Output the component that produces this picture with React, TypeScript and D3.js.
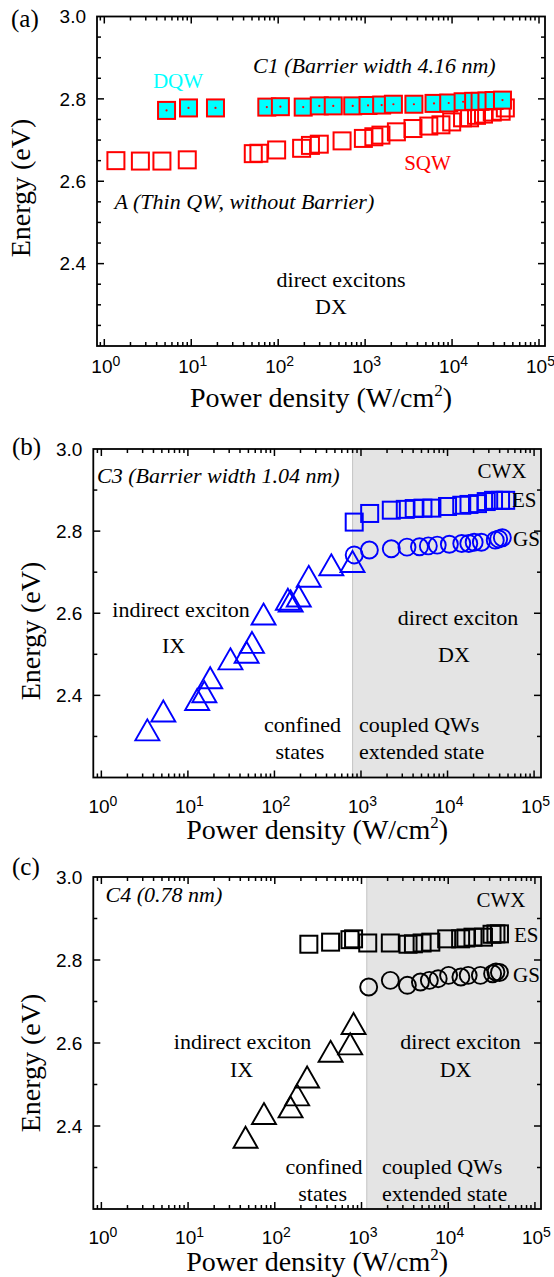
import React, { useEffect } from 'react';
import * as d3 from 'd3';

// ---------- Data: panel (a) C1 / A ----------
const dqwPower = [5.2, 9.3, 19, 74, 106, 194, 297, 430, 720, 1080, 1550, 2115, 3640, 6200, 9150, 13400, 17700, 21000, 25200, 30400, 38000];
const dqwEnergy = [2.772, 2.778, 2.778, 2.780, 2.781, 2.780, 2.783, 2.783, 2.783, 2.784, 2.785, 2.787, 2.787, 2.789, 2.790, 2.793, 2.794, 2.794, 2.795, 2.796, 2.797];
const sqwPower = [1.36, 2.6, 4.6, 9.0, 51.7, 60, 96, 186, 235, 297, 543, 955, 1260, 1520, 2290, 3550, 5400, 7450, 9900, 13200, 15900, 19100, 23000, 29000, 36700, 41000];
const sqwEnergy = [2.650, 2.649, 2.649, 2.652, 2.667, 2.668, 2.676, 2.680, 2.687, 2.690, 2.698, 2.704, 2.708, 2.712, 2.720, 2.728, 2.734, 2.737, 2.744, 2.754, 2.754, 2.760, 2.763, 2.768, 2.770, 2.778];

// ---------- Data: panel (b) C3 ----------
const c3IxPower = [3.4, 5.2, 12.8, 15.5, 18.1, 31, 47.7, 55, 74.8, 143, 154, 191, 249, 454, 798];
const c3IxEnergy = [2.316, 2.362, 2.390, 2.409, 2.443, 2.489, 2.505, 2.529, 2.598, 2.634, 2.630, 2.642, 2.690, 2.718, 2.726];
const c3GsPower = [835, 1250, 2240, 3400, 4740, 6000, 7600, 10500, 14600, 17600, 20300, 24600, 35600, 39000, 43000];
const c3GsEnergy = [2.742, 2.754, 2.757, 2.761, 2.762, 2.764, 2.766, 2.768, 2.770, 2.770, 2.773, 2.773, 2.778, 2.781, 2.784];
const c3EsPower = [835, 1260, 2240, 3250, 4120, 5200, 6600, 10000, 14600, 17700, 22200, 28000, 34000, 41000, 47000];
const c3EsEnergy = [2.822, 2.843, 2.851, 2.853, 2.855, 2.856, 2.856, 2.860, 2.863, 2.865, 2.867, 2.872, 2.875, 2.875, 2.875];

// ---------- Data: panel (c) C4 ----------
const c4IxPower = [46, 75, 152, 181, 236, 440, 740, 810];
const c4IxEnergy = [2.373, 2.430, 2.446, 2.475, 2.518, 2.580, 2.598, 2.647];
const c4GsPower = [1210, 2150, 3380, 4780, 6060, 7660, 10100, 14000, 17000, 23500, 32500, 35500, 39000];
const c4GsEnergy = [2.735, 2.751, 2.739, 2.747, 2.751, 2.755, 2.763, 2.759, 2.763, 2.763, 2.767, 2.771, 2.770];
const c4EsPower = [247, 440, 736, 810, 1180, 2150, 3440, 3970, 5000, 6300, 9600, 13900, 16000, 19300, 25500, 32000, 35500, 39000];
const c4EsEnergy = [2.838, 2.843, 2.849, 2.851, 2.841, 2.841, 2.838, 2.839, 2.841, 2.843, 2.851, 2.851, 2.853, 2.855, 2.855, 2.862, 2.863, 2.863];

// shaded (coupled QWs) region start, W/cm2
const c3ShadeStart = 800;
const c4ShadeStart = 1150;

// ---------- Tick labels ----------
const yTickValues = [2.4, 2.6, 2.8, 3.0];
const yTickLabels = ['2.4', '2.6', '2.8', '3.0'];
const xTickExponents = ['0', '1', '2', '3', '4', '5'];

const SERIF = "'Liberation Serif', 'Times New Roman', Times, serif";
const SANS = "'Liberation Sans', Arial, Helvetica, sans-serif";
const RED = '#ff0000';
const CYAN = '#00ffff';
const BLUE = '#0000ff';

type PanelCfg = {
  L: number; R: number; T: number; B: number;
  logMin: number; logMax: number;
  minorStep: number;
  tickLabelY: number; titleY: number; yTitleX: number; yTitleCY: number;
};

const panelA: PanelCfg = { L: 97, R: 545, T: 16.5, B: 346, logMin: -0.084, logMax: 5.069, minorStep: 0.05, tickLabelY: 373, titleY: 407, yTitleX: 30, yTitleCY: 188 };
const panelB: PanelCfg = { L: 93.3, R: 541, T: 449, B: 777.5, logMin: -0.093, logMax: 5.08, minorStep: 0.1, tickLabelY: 813, titleY: 839, yTitleX: 40, yTitleCY: 631 };
const panelC: PanelCfg = { L: 93.3, R: 541, T: 877, B: 1209, logMin: -0.093, logMax: 5.07, minorStep: 0.1, tickLabelY: 1244, titleY: 1271, yTitleX: 40, yTitleCY: 1063 };

function scales(p: PanelCfg) {
  const xs = d3.scaleLog().domain([Math.pow(10, p.logMin), Math.pow(10, p.logMax)]).range([p.L, p.R]);
  const ys = d3.scaleLinear().domain([2.2, 3.0]).range([p.B, p.T]);
  return { xs, ys };
}

function Axes({ p }: { p: PanelCfg }) {
  const { xs, ys } = scales(p);
  const lines: any[] = [];
  let k = 0;
  for (let e = -1; e <= 5; e++) {
    for (let m = 1; m <= 9; m++) {
      const v = m * Math.pow(10, e);
      const x = xs(v);
      if (x < p.L + 0.5 || x > p.R - 0.5) continue;
      const len = m === 1 ? 7 : 4;
      lines.push(<line key={k++} x1={x} x2={x} y1={p.B} y2={p.B - len} />);
      lines.push(<line key={k++} x1={x} x2={x} y1={p.T} y2={p.T + len} />);
    }
  }
  const n = Math.round(0.8 / p.minorStep);
  for (let i = 1; i < n; i++) {
    const v = 2.2 + i * p.minorStep;
    const major = Math.round(v * 100) % 20 === 0;
    const len = major ? 7 : 4;
    const y = ys(v);
    lines.push(<line key={k++} x1={p.L} x2={p.L + len} y1={y} y2={y} />);
    lines.push(<line key={k++} x1={p.R} x2={p.R - len} y1={y} y2={y} />);
  }
  return (
    <g>
      <g stroke="#000" strokeWidth={1.5}>{lines}</g>
      <rect x={p.L} y={p.T} width={p.R - p.L} height={p.B - p.T} fill="none" stroke="#000" strokeWidth={1.8} />
      <g fontFamily={SANS} fontSize={19} fill="#000">
        {yTickValues.map((v, i) => (
          <text key={'y' + i} x={p.L - 11} y={ys(v)} dy="0.36em" textAnchor="end">{yTickLabels[i]}</text>
        ))}
        {xTickExponents.map((ex, i) => (
          <text key={'x' + i} x={xs(Math.pow(10, +ex)) + 1.5} y={p.tickLabelY} textAnchor="middle">
            <tspan>10</tspan>
            <tspan dy={-7} fontSize={14}>{ex}</tspan>
          </text>
        ))}
      </g>
      <text x={(p.L + p.R) / 2} y={p.titleY} textAnchor="middle" fontFamily={SERIF} fontSize={28}>
        <tspan>Power density (W/cm</tspan>
        <tspan dy={-11} fontSize={17}>2</tspan>
        <tspan dy={11}>)</tspan>
      </text>
      <text transform={`translate(${p.yTitleX},${p.yTitleCY}) rotate(-90)`} textAnchor="middle" fontFamily={SERIF} fontSize={28}>Energy (eV)</text>
    </g>
  );
}

function Squares({ p, xsData, ysData, color, fill, dot, size = 17 }: any) {
  const { xs, ys } = scales(p);
  return (
    <g>
      {xsData.map((v: number, i: number) => {
        const cx = xs(v), cy = ys(ysData[i]);
        return (
          <g key={i}>
            <rect x={cx - size / 2} y={cy - size / 2} width={size} height={size} fill={fill} stroke={color} strokeWidth={2} />
            {dot ? <circle cx={cx} cy={cy} r={1.1} fill={color} /> : null}
          </g>
        );
      })}
    </g>
  );
}

function Circles({ p, xsData, ysData, color }: any) {
  const { xs, ys } = scales(p);
  return (
    <g>
      {xsData.map((v: number, i: number) => (
        <circle key={i} cx={xs(v)} cy={ys(ysData[i])} r={8.5} fill="none" stroke={color} strokeWidth={1.9} />
      ))}
    </g>
  );
}

function Triangles({ p, xsData, ysData, color }: any) {
  const { xs, ys } = scales(p);
  const w = 24, h = 21;
  return (
    <g>
      {xsData.map((v: number, i: number) => {
        const cx = xs(v), cy = ys(ysData[i]);
        const path = d3.path();
        path.moveTo(cx, cy - h / 2);
        path.lineTo(cx + w / 2, cy + h / 2);
        path.lineTo(cx - w / 2, cy + h / 2);
        path.closePath();
        return <path key={i} d={path.toString()} fill="none" stroke={color} strokeWidth={1.9} strokeLinejoin="miter" />;
      })}
    </g>
  );
}

function Shade({ p, from }: { p: PanelCfg; from: number }) {
  const { xs } = scales(p);
  const x0 = xs(from);
  return (
    <g>
      <rect x={x0} y={p.T} width={p.R - x0} height={p.B - p.T} fill="#e4e4e4" />
      <line x1={x0} x2={x0} y1={p.T} y2={p.B} stroke="#c4c4c4" strokeWidth={1} />
    </g>
  );
}

type Ann = { t: string; x: number; y: number; a?: 'start' | 'middle' | 'end'; it?: boolean; c?: string; s?: number };

const annotations: Ann[] = [
  { t: '(a)', x: 11, y: 27, s: 25 },
  { t: 'DQW', x: 178, y: 88, a: 'middle', c: CYAN, s: 21 },
  { t: 'C1 (Barrier width 4.16 nm)', x: 253, y: 73, it: true },
  { t: 'SQW', x: 427.5, y: 170, a: 'middle', c: RED, s: 21 },
  { t: 'A (Thin QW, without Barrier)', x: 114.5, y: 209, it: true },
  { t: 'direct excitons', x: 341, y: 287, a: 'middle' },
  { t: 'DX', x: 331, y: 314, a: 'middle' },

  { t: '(b)', x: 12, y: 455, s: 25 },
  { t: 'C3 (Barrier width 1.04 nm)', x: 97, y: 483, it: true },
  { t: 'CWX', x: 502, y: 478, a: 'middle', s: 21 },
  { t: 'ES', x: 512, y: 507, s: 21 },
  { t: 'GS', x: 513, y: 546, s: 21 },
  { t: 'indirect exciton', x: 181, y: 617, a: 'middle' },
  { t: 'IX', x: 173.5, y: 653, a: 'middle' },
  { t: 'direct exciton', x: 458, y: 625, a: 'middle' },
  { t: 'DX', x: 454, y: 662, a: 'middle' },
  { t: 'confined', x: 302.5, y: 732, a: 'middle' },
  { t: 'states', x: 300, y: 759, a: 'middle' },
  { t: 'coupled QWs', x: 359, y: 732 },
  { t: 'extended state', x: 359, y: 759 },

  { t: '(c)', x: 12, y: 875, s: 25 },
  { t: 'C4 (0.78 nm)', x: 105.6, y: 902, it: true },
  { t: 'CWX', x: 501, y: 907, a: 'middle', s: 21 },
  { t: 'ES', x: 514, y: 942, s: 21 },
  { t: 'GS', x: 513, y: 982, s: 21 },
  { t: 'indirect exciton', x: 242.6, y: 1049, a: 'middle' },
  { t: 'IX', x: 241.5, y: 1077, a: 'middle' },
  { t: 'direct exciton', x: 460.5, y: 1049, a: 'middle' },
  { t: 'DX', x: 455.6, y: 1077, a: 'middle' },
  { t: 'confined', x: 324, y: 1174, a: 'middle' },
  { t: 'states', x: 322.7, y: 1201, a: 'middle' },
  { t: 'coupled QWs', x: 382, y: 1174 },
  { t: 'extended state', x: 382, y: 1201 },
];

export default function App() {
  useEffect(() => {
    document.body.style.margin = '0';
  }, []);
  return (
    <div style={{ position: 'absolute', left: 0, top: 0 }}>
      <svg width={554} height={1277} style={{ display: 'block', background: '#fff' }}>
        <rect x={0} y={0} width={554} height={1277} fill="#fff" />
        {/* panel a */}
        <Squares p={panelA} xsData={sqwPower} ysData={sqwEnergy} color={RED} fill="none" />
        <Squares p={panelA} xsData={dqwPower} ysData={dqwEnergy} color={RED} fill={CYAN} dot />
        <Axes p={panelA} />

        {/* panel b */}
        <Shade p={panelB} from={c3ShadeStart} />
        <Triangles p={panelB} xsData={c3IxPower} ysData={c3IxEnergy} color={BLUE} />
        <Circles p={panelB} xsData={c3GsPower} ysData={c3GsEnergy} color={BLUE} />
        <Squares p={panelB} xsData={c3EsPower} ysData={c3EsEnergy} color={BLUE} fill="none" />
        <Axes p={panelB} />

        {/* panel c */}
        <Shade p={panelC} from={c4ShadeStart} />
        <Triangles p={panelC} xsData={c4IxPower} ysData={c4IxEnergy} color="#000" />
        <Circles p={panelC} xsData={c4GsPower} ysData={c4GsEnergy} color="#000" />
        <Squares p={panelC} xsData={c4EsPower} ysData={c4EsEnergy} color="#000" fill="none" />
        <Axes p={panelC} />

        <g fontFamily={SERIF}>
          {annotations.map((a, i) => (
            <text key={i} x={a.x} y={a.y} textAnchor={a.a || 'start'} fontStyle={a.it ? 'italic' : 'normal'} fill={a.c || '#000'} fontSize={a.s || 22}>{a.t}</text>
          ))}
        </g>
      </svg>
    </div>
  );
}
